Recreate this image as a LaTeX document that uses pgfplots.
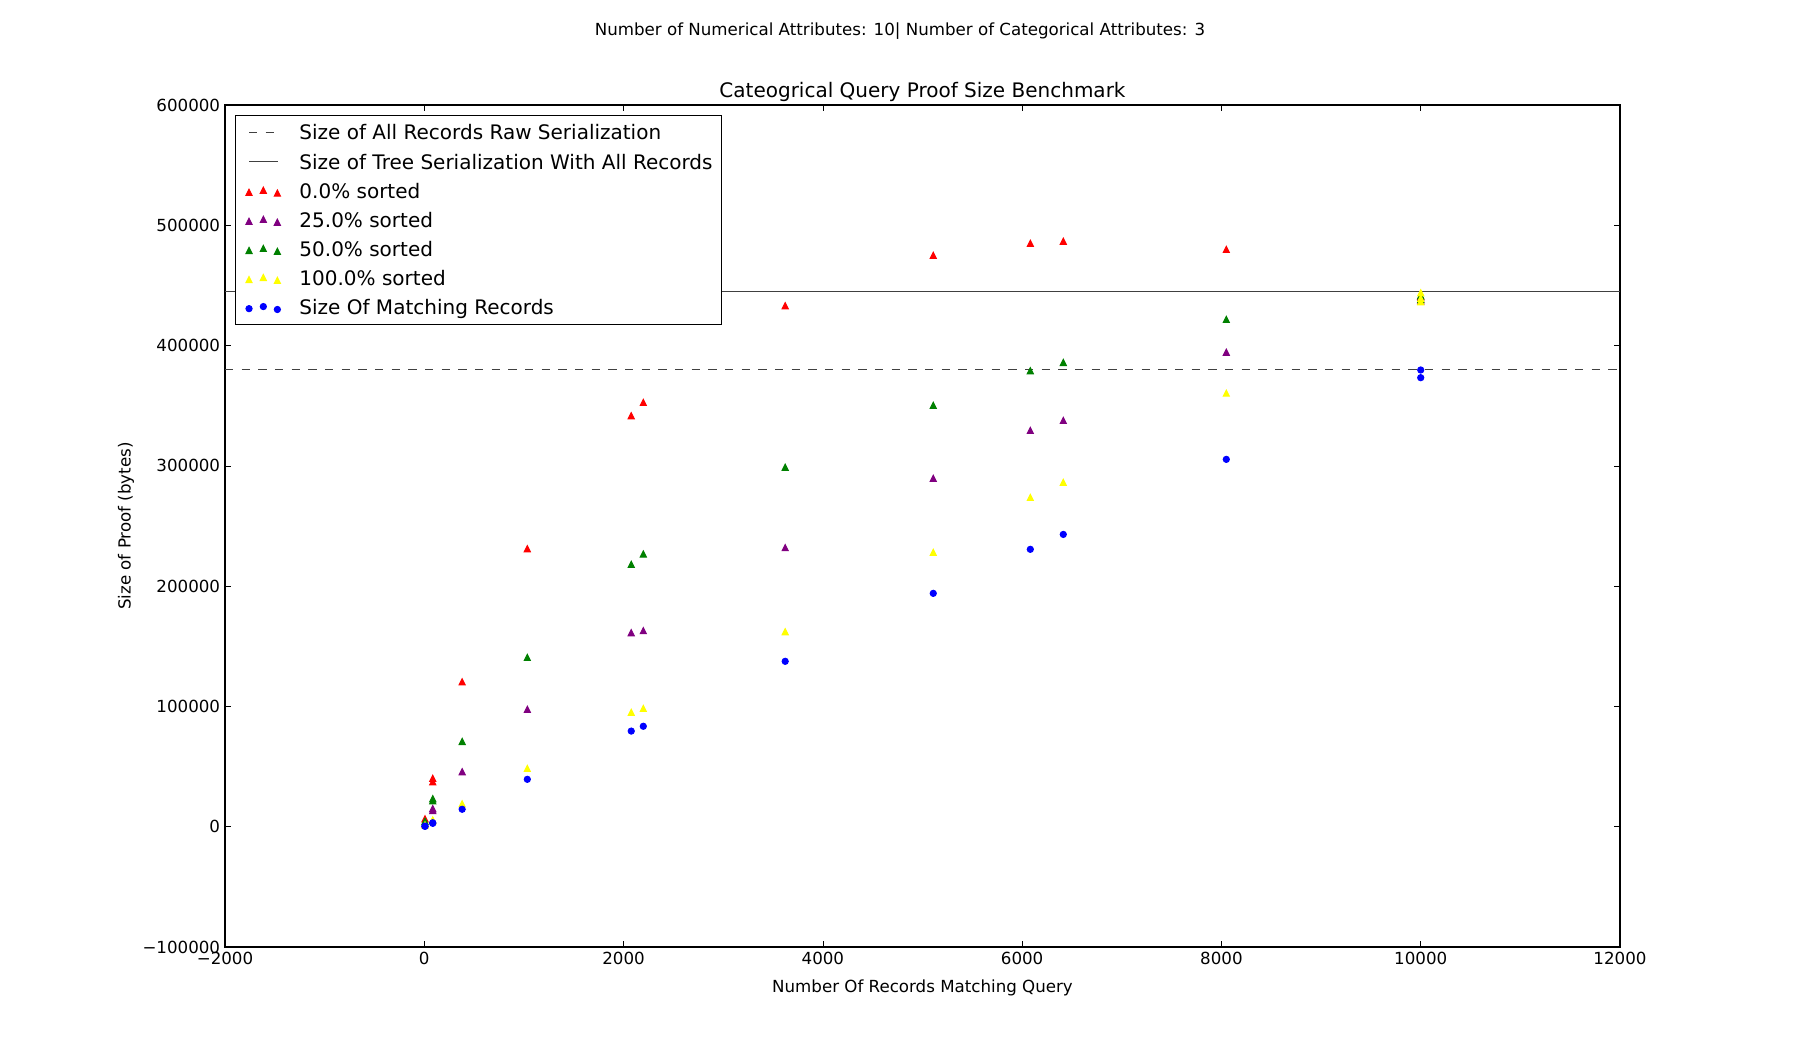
\documentclass[border=0pt]{standalone}
\usepackage{fontspec}
\setmainfont{DejaVu Sans}
\usepackage{pgfplots}
\pgfplotsset{compat=1.18}
\definecolor{mred}{RGB}{255,0,0}
\definecolor{mpurple}{RGB}{128,0,128}
\definecolor{mgreen}{RGB}{0,128,0}
\definecolor{myellow}{RGB}{255,255,0}
\definecolor{mblue}{RGB}{0,0,255}
\pgfdeclareplotmark{mtri}{%
  \pgfpathmoveto{\pgfpoint{0pt}{\pgfplotmarksize}}%
  \pgfpathlineto{\pgfpoint{-\pgfplotmarksize}{-\pgfplotmarksize}}%
  \pgfpathlineto{\pgfpoint{\pgfplotmarksize}{-\pgfplotmarksize}}%
  \pgfpathclose\pgfusepathqfillstroke}
\pgfplotsset{
  scatleg/.style={legend image code/.code={%
    \path[draw=none,fill=none] (0pt,-10.475pt) rectangle (39.5pt,10.475pt);
    \draw[##1,only marks] plot coordinates {(3.2pt,-1pt) (13.5pt,0.5pt) (23.6pt,-1.6pt)};}},
  lineleg/.style={legend image code/.code={%
    \path[draw=none,fill=none] (0pt,-10.475pt) rectangle (39.5pt,10.475pt);
    \draw[##1] (3.2pt,0pt) -- (#1,0pt);}},
}
\begin{document}
\begin{tikzpicture}
\useasboundingbox (0pt,0pt) rectangle (1296pt,757.44pt);
\begin{axis}[
  at={(162pt,75.6pt)}, anchor=south west,
  scale only axis, width=1004.4pt, height=606.24pt,
  xmin=-2000, xmax=12000, ymin=-100000, ymax=600000,
  xtick={-2000,0,2000,4000,6000,8000,10000,12000},
  xticklabels={−2000,0,2000,4000,6000,8000,10000,12000},
  ytick={-100000,0,100000,200000,300000,400000,500000,600000},
  yticklabels={−100000,0,100000,200000,300000,400000,500000,600000},
  scaled ticks=false,
  tick align=inside, major tick length=4pt,
  major tick style={line width=0.5pt, black},
  minor tick num=0,
  axis line style={line width=1pt},
  ticklabel style={font=\fontsize{12}{14.4}\selectfont},
  legend style={at={(rel axis cs:0.00717,0.98812)}, anchor=north west,
    font=\fontsize{14.4}{17}\selectfont, draw=black, line width=0.8pt, fill=white,
    inner xsep=6.5pt, inner ysep=1.85pt, row sep=0pt, column sep=0pt,
    nodes={inner sep=0pt, text height=10.5pt, text depth=0pt}},
  legend cell align=left,
  mk/.style={only marks, mark=mtri, mark size=2.24pt, line width=0.7pt, scatleg},
]
\addlegendimage{lineleg=21.2pt, black!75, line width=0.7pt, dash pattern=on 6pt off 6pt}
\addlegendentry{Size of All Records Raw Serialization}
\addlegendimage{lineleg=24.2pt, black!75, line width=0.7pt}
\addlegendentry{Size of Tree Serialization With All Records}

\addplot[mk, draw=mred, fill=mred] coordinates {
(7,6500) (85,40200) (85,37400) (380,120500) (1034,231100) (2077,341700) (2198,352800) (3622,433100) (5108,475000) (6082,485000) (6413,486700) (8049,480000) (10000,441000) (10000,438000)};
\addlegendentry{0.0\% sorted}
\addplot[mk, draw=mpurple, fill=mpurple] coordinates {
(7,2500) (85,15000) (85,13500) (380,45700) (1034,97600) (2077,161300) (2198,163000) (3622,232000) (5108,289600) (6082,329500) (6413,337800) (8049,394400) (10000,440000) (10000,437000)};
\addlegendentry{25.0\% sorted}
\addplot[mk, draw=mgreen, fill=mgreen] coordinates {
(7,4500) (85,23300) (85,21500) (380,70900) (1034,140800) (2077,218100) (2198,226700) (3622,298800) (5108,350300) (6082,379100) (6413,386000) (8049,421800) (10000,441500) (10000,438500)};
\addlegendentry{50.0\% sorted}
\addplot[mk, draw=myellow, fill=myellow] coordinates {
(7,1500) (85,5600) (85,5000) (380,19000) (1034,48500) (2077,95100) (2198,98400) (3622,162100) (5108,228100) (6082,273800) (6413,286300) (8049,360500) (10000,443900) (10000,439300) (10000,436500)};
\addlegendentry{100.0\% sorted}
\addplot[only marks, mark=*, mark size=2.24pt, line width=0.7pt, draw=mblue, fill=mblue, scatleg] coordinates {
(7,500) (7,300) (85,3300) (85,2800) (380,14500) (1034,39400) (2077,79500) (2198,83500) (3622,137500) (5108,194000) (6082,230600) (6413,243000) (8049,305400) (10000,379700) (10000,373300)};
\addlegendentry{Size Of Matching Records}

\addplot[forget plot, black!75, line width=0.7pt, dash pattern=on 6pt off 6pt] coordinates {(-2000,380000) (12000,380000)};
\addplot[forget plot, black!75, line width=0.7pt] coordinates {(-2000,445000) (12000,445000)};
\end{axis}
\node[anchor=base, font=\fontsize{12}{14.4}\selectfont] at (648pt,732.2pt) {Number of Numerical Attributes: 10| Number of Categorical Attributes: 3};
\node[anchor=base, font=\fontsize{14.4}{17}\selectfont] at (664.2pt,687.4pt) {Cateogrical Query Proof Size Benchmark};
\node[anchor=base, font=\fontsize{12}{14.4}\selectfont] at (664.2pt,42.7pt) {Number Of Records Matching Query};
\node[anchor=base, rotate=90, font=\fontsize{12}{14.4}\selectfont] at (94pt,378.7pt) {Size of Proof (bytes)};
\end{tikzpicture}
\end{document}
